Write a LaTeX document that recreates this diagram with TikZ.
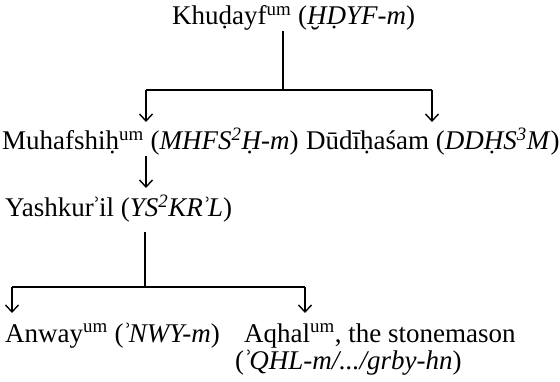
\documentclass[tikz,border=0pt]{standalone}
\usepackage{fontspec}
\setmainfont{Liberation Serif}
\usetikzlibrary{arrows.meta}
\newcommand{\hmz}{\kern-0.07em ʾ\kern-0.07em}
\begin{document}
\begin{tikzpicture}[x=1pt,y=-1pt,
  font=\fontsize{27}{32}\selectfont,
  lbl/.style={inner sep=0pt, anchor=base west},
  ln/.style={line width=1.2pt},
  arr/.style={ln,-{Straight Barb[length=7pt,width=13pt,line width=1.4pt]}}]
\useasboundingbox (0,0) rectangle (560,382);
\fill[white] (0,0) rectangle (560,382);
% nodes
\node[lbl] (khu) at (172,25) {Khuḍayf\textsuperscript{um} (\textit{ḪḌYF-m})};
\node[lbl] (mu) at (2,150) {Muhafshiḥ\textsuperscript{um} (\textit{MHFS\textsuperscript{2}Ḥ-m})};
\node[lbl] (du) at (306,150) {Dūdīḥaśam (\textit{DDḤS\textsuperscript{3}M})};
\node[lbl] (ya) at (5,217) {Yashkur\hmz il (\textit{YS\textsuperscript{2}KR\hmz L})};
\node[lbl] (an) at (5,342) {Anway\textsuperscript{um} (\textit{\hmz NWY-m})};
\node[lbl] (aq) at (244,342) {Aqhal\textsuperscript{um}, the stonemason};
\node[lbl] (aq2) at (235,369) {(\textit{\hmz QHL-m/.../grby-hn})};
% junctions
\coordinate (j1) at (283,90);
\coordinate (l1) at (146,90);
\coordinate (r1) at (432,90);
\coordinate (mut) at (146,122);
\coordinate (dut) at (432,122);
\coordinate (yat) at (146,188);
\coordinate (j2) at (145,287);
\coordinate (l2) at (12,287);
\coordinate (r2) at (305,287);
\coordinate (ant) at (12,313);
\coordinate (aqt) at (305,313);
% connectors
\draw[ln] (khu.south -| j1) -- (j1);
\draw[ln] (l1) -- (r1);
\draw[arr] (l1) -- (mut);
\draw[arr] (r1) -- (dut);
\draw[arr] (mu.south -| yat) -- (yat);
\draw[ln, shorten <=9pt] (ya.south -| j2) -- (j2);
\draw[ln] (l2) -- (r2);
\draw[arr] (l2) -- (ant);
\draw[arr] (r2) -- (aqt);
\end{tikzpicture}
\end{document}
